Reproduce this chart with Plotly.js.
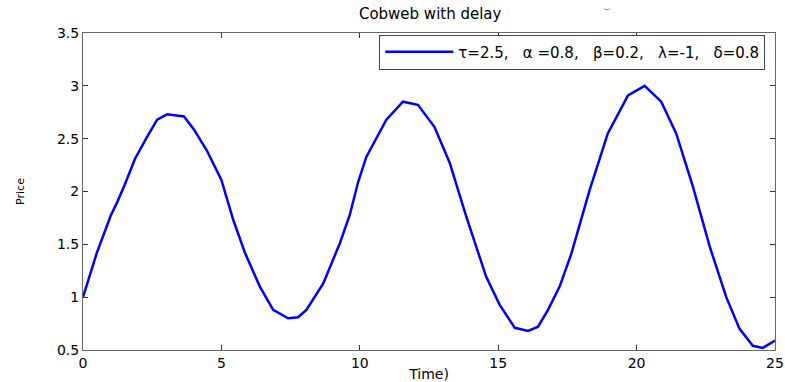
<!DOCTYPE html>
<html><head><meta charset="utf-8">
<script src="https://cdn.plot.ly/plotly-3.0.1.min.js"></script>
<style>html,body{margin:0;padding:0;background:#fff}</style>
</head><body>
<div id="chart" style="width:785px;height:382px"></div>
<script>
const time = [0, 0.5, 1.0, 1.22, 1.5, 1.88, 2.3, 2.68, 3.04, 3.65, 4.0, 4.47, 5.0, 5.43, 5.85, 6.39, 6.87, 7.41, 7.77, 8.07, 8.68, 9.28, 9.64, 9.94, 10.24, 10.96, 11.56, 12.1, 12.7, 13.25, 13.85, 14.57, 15.05, 15.6, 16.08, 16.44, 16.8, 17.22, 17.64, 18.3, 18.96, 19.69, 20.29, 20.89, 21.43, 22.03, 22.64, 23.24, 23.72, 24.2, 24.56, 25.0];
const price = [1.0, 1.42, 1.77, 1.89, 2.06, 2.31, 2.51, 2.68, 2.73, 2.71, 2.59, 2.39, 2.11, 1.73, 1.42, 1.10, 0.88, 0.80, 0.81, 0.88, 1.13, 1.51, 1.78, 2.09, 2.33, 2.68, 2.85, 2.82, 2.61, 2.27, 1.76, 1.19, 0.93, 0.71, 0.68, 0.72, 0.88, 1.10, 1.41, 2.01, 2.55, 2.91, 3.0, 2.85, 2.55, 2.05, 1.48, 1.0, 0.70, 0.54, 0.52, 0.59];
const seriesName = "τ=2.5,\u00a0\u00a0 α\u00a0=0.8,\u00a0\u00a0 β=0.2,\u00a0\u00a0 λ=-1,\u00a0\u00a0 δ=0.8";
const xTicks = [0, 5, 10, 15, 20, 25];
const yTicks = [0.5, 1, 1.5, 2, 2.5, 3, 3.5];

const fam = "DejaVu Sans, Verdana, sans-serif";
const axisCommon = {
  showgrid: false, zeroline: false, showline: true, linecolor: "#666", linewidth: 1,
  mirror: "ticks", ticks: "inside", ticklen: 5, tickcolor: "#333", tickwidth: 1,
  tickfont: {family: fam, size: 14, color: "#000"}
};
Plotly.newPlot("chart", [{
  x: time, y: price, type: "scatter", mode: "lines", name: seriesName,
  line: {color: "#0000ff", width: 2.5}
}], {
  width: 785, height: 382,
  margin: {l: 83, r: 10, t: 33, b: 32},
  paper_bgcolor: "#fff", plot_bgcolor: "#fff",
  font: {family: fam, color: "#000"},
  title: {text: "Cobweb with delay", font: {family: fam, size: 15, color: "#000"}, x: 0.548, xanchor: "center", y: 0.963, yanchor: "middle"},
  xaxis: Object.assign({}, axisCommon, {range: [0, 25], tickvals: xTicks, ticktext: xTicks.map(String),
    title: {text: "Time)", font: {family: fam, size: 14}, standoff: 0}}),
  yaxis: Object.assign({}, axisCommon, {range: [0.5, 3.5], tickvals: yTicks, ticktext: yTicks.map(String),
    title: {text: "Price", font: {family: fam, size: 11}, standoff: 30}}),
  showlegend: true,
  legend: {x: 0.986, y: 0.995, xanchor: "right", yanchor: "top", bgcolor: "#fff",
    bordercolor: "#444", borderwidth: 1, font: {family: fam, size: 15, color: "#000"},
    itemwidth: 68, tracegroupgap: 0},
  annotations: [{text: "⌣", x: 0.757, y: 1.079, xref: "paper", yref: "paper", showarrow: false,
    xanchor: "center", yanchor: "middle", font: {size: 12, color: "#999"}}]
}, {staticPlot: true});
</script>
</body></html>
